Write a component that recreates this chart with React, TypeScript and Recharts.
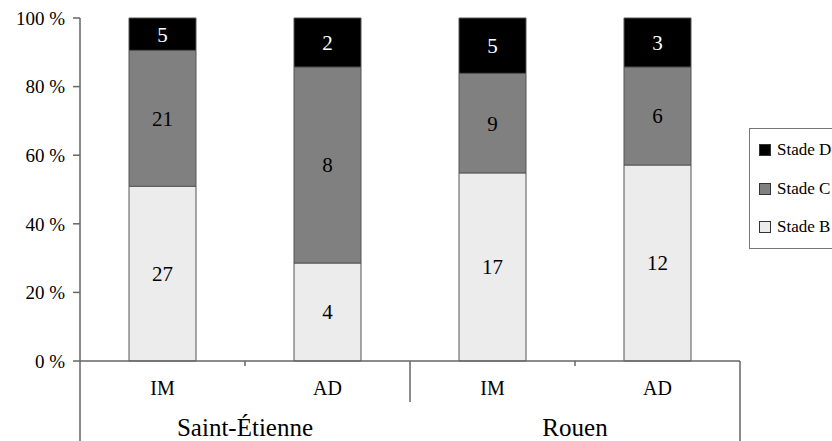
import React from 'react';
import { BarChart, Bar, XAxis, YAxis, Legend, LabelList } from 'recharts';

const groups = ['Saint-Étienne', 'Rouen'];
const methods = ['IM', 'AD', 'IM', 'AD'];
const groupOf = [0, 0, 1, 1];
const stadeB = [27, 4, 17, 12];
const stadeC = [21, 8, 9, 6];
const stadeD = [5, 2, 5, 3];
const yTicks = [0, 0.2, 0.4, 0.6, 0.8, 1];
const seriesNames = ['Stade B', 'Stade C', 'Stade D'];
const seriesColors = ['#ececec', '#808080', '#000000'];

const data = methods.map((m, i) => {
  const total = stadeB[i] + stadeC[i] + stadeD[i];
  return {
    key: `${groups[groupOf[i]]}-${m}-${i}`,
    method: m,
    group: groups[groupOf[i]],
    b: stadeB[i],
    c: stadeC[i],
    d: stadeD[i],
    bPct: stadeB[i] / total,
    cPct: stadeC[i] / total,
    dPct: stadeD[i] / total,
  };
});

const FONT = 'Liberation Serif, DejaVu Serif, serif';
const LINE = '#666';
const W = 832;
const H = 441;

function XTick(props: any) {
  const { x, y, payload, index } = props;
  const n = data.length;
  const half =
    payload && typeof payload.offset === 'number' && payload.offset > 0
      ? payload.offset
      : (props.width || 660) / n / 2;
  const item = data[index];
  if (!item) return null;
  const left = x - half;
  const right = x + half;
  const firstInGroup = index === 0 || groupOf[index - 1] !== groupOf[index];
  const lastInGroup = index === n - 1 || groupOf[index + 1] !== groupOf[index];
  const els: any[] = [];
  els.push(
    <text key="t" x={x} y={y + 34} textAnchor="middle" fontSize={20} fontFamily={FONT} fill="#000">
      {item.method}
    </text>
  );
  if (index === 0) {
    els.push(<line key="l0" x1={left} x2={left} y1={y} y2={H} stroke={LINE} strokeWidth={1.5} />);
  }
  if (index === n - 1) {
    els.push(<line key="lr" x1={right} x2={right} y1={y} y2={H} stroke={LINE} strokeWidth={1.5} />);
  } else if (lastInGroup) {
    els.push(<line key="lg" x1={right} x2={right} y1={y} y2={y + 41} stroke={LINE} strokeWidth={1.5} />);
  } else {
    els.push(<line key="ls" x1={right} x2={right} y1={y} y2={y + 5} stroke={LINE} strokeWidth={1.5} />);
  }
  if (firstInGroup) {
    els.push(
      <text key="g" x={right} y={y + 75} textAnchor="middle" fontSize={25} fontFamily={FONT} fill="#000">
        {item.group}
      </text>
    );
  }
  return <g>{els}</g>;
}

function LegendBox() {
  const order = [2, 1, 0];
  return (
    <div
      style={{
        border: '1px solid #777',
        width: 110,
        boxSizing: 'border-box',
        paddingTop: 2,
        paddingBottom: 1,
        background: '#fff',
        fontFamily: FONT,
      }}
    >
      {order.map((k) => (
        <div key={k} style={{ height: 38.5, display: 'flex', alignItems: 'center', paddingLeft: 9 }}>
          <span
            style={{
              display: 'inline-block',
              width: 12,
              height: 12,
              boxSizing: 'border-box',
              background: seriesColors[k],
              border: '1px solid #333',
              marginRight: 6,
              flex: 'none',
            }}
          />
          <span style={{ fontSize: 17, color: '#000', whiteSpace: 'nowrap' }}>{seriesNames[k]}</span>
        </div>
      ))}
    </div>
  );
}

export default function App() {
  return (
    <div style={{ position: 'absolute', left: 0, top: 0, width: W, height: H, overflow: 'hidden', background: '#fff' }}>
      <BarChart
        width={W}
        height={H}
        data={data}
        margin={{ top: 18, right: 92, bottom: 0, left: 0 }}
        barSize={67}
      >
        <YAxis
          type="number"
          domain={[0, 1]}
          ticks={yTicks}
          width={80}
          tickSize={7}
          tickMargin={8}
          stroke={LINE}
          axisLine={{ stroke: LINE, strokeWidth: 1.5 }}
          tickLine={{ stroke: LINE, strokeWidth: 1.5 }}
          tick={{ fill: '#000', fontSize: 19, fontFamily: FONT }}
          tickFormatter={(v: number) => `${Math.round(v * 100)} %`}
        />
        <XAxis
          dataKey="key"
          type="category"
          height={80}
          tickSize={0}
          tickMargin={0}
          tickLine={false}
          axisLine={{ stroke: LINE, strokeWidth: 1.5 }}
          interval={0}
          tick={<XTick />}
        />
        <Legend
          layout="vertical"
          align="center"
          verticalAlign="middle"
          wrapperStyle={{ position: 'absolute', left: 749, top: 128, width: 110 }}
          content={() => <LegendBox />}
        />
        <Bar dataKey="bPct" name={seriesNames[0]} stackId="s" fill={seriesColors[0]} stroke="#555" strokeWidth={1} isAnimationActive={false}>
          <LabelList dataKey="b" position="center" fill="#000" fontSize={21} fontFamily={FONT} />
        </Bar>
        <Bar dataKey="cPct" name={seriesNames[1]} stackId="s" fill={seriesColors[1]} stroke="#555" strokeWidth={1} isAnimationActive={false}>
          <LabelList dataKey="c" position="center" fill="#000" fontSize={21} fontFamily={FONT} />
        </Bar>
        <Bar dataKey="dPct" name={seriesNames[2]} stackId="s" fill={seriesColors[2]} stroke="#555" strokeWidth={1} isAnimationActive={false}>
          <LabelList dataKey="d" position="center" fill="#fff" fontSize={21} fontFamily={FONT} />
        </Bar>
      </BarChart>
    </div>
  );
}
